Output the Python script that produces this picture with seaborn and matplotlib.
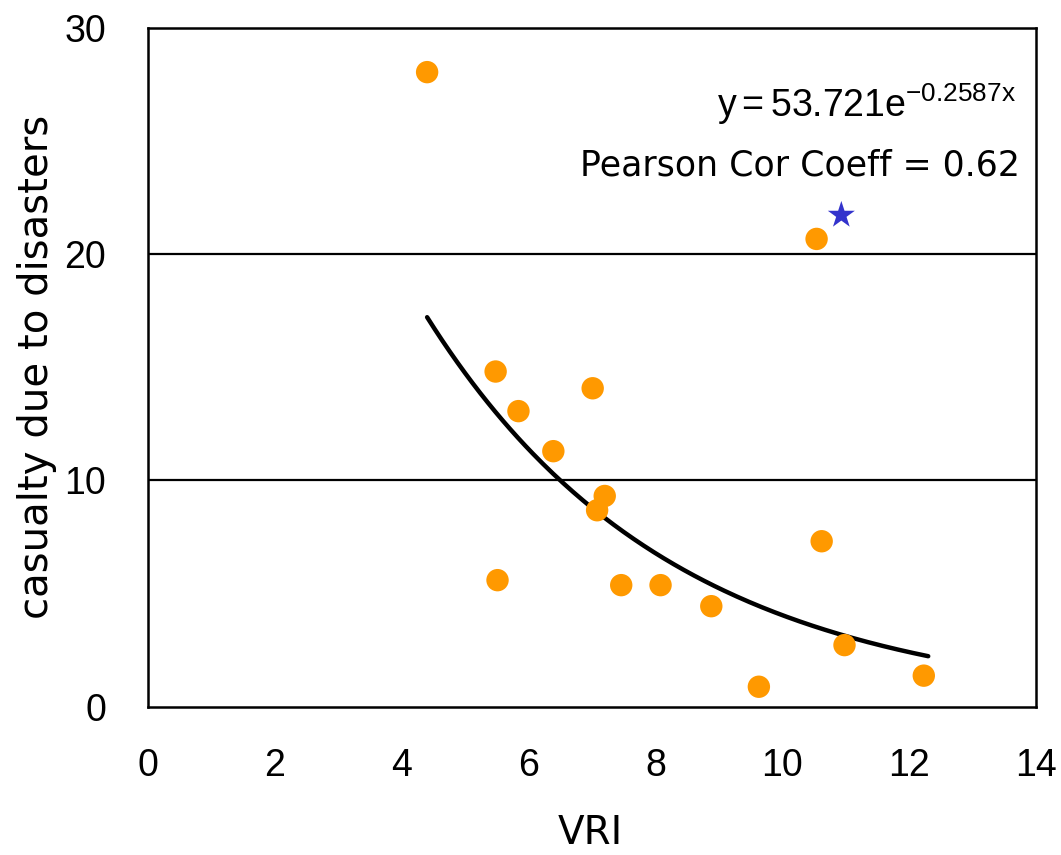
import numpy as np
import pandas as pd
import matplotlib
matplotlib.use("Agg")
import matplotlib.pyplot as plt
import seaborn as sns

# Data
vri = [4.40, 5.48, 5.84, 6.39, 7.01, 7.20, 7.08, 5.51, 7.46, 8.08, 8.88, 9.63, 10.54, 10.62, 10.98, 12.23]
casualty = [28.04, 14.81, 13.06, 11.29, 14.07, 9.31, 8.68, 5.59, 5.37, 5.37, 4.44, 0.88, 20.67, 7.31, 2.72, 1.37]
star_x = [10.93]
star_y = [21.72]
# Exponential trendline from the chart: y = a * exp(b x)
fit_a = 53.721
fit_b = -0.2587
fit_range = [4.40, 12.30]
x_ticks = [0, 2, 4, 6, 8, 10, 12, 14]
y_ticks = [0, 10, 20, 30]

sns.set_theme(style="white")
plt.rcParams['font.family'] = ['Liberation Sans', 'DejaVu Sans']
plt.rcParams['mathtext.fontset'] = 'custom'
plt.rcParams['mathtext.rm'] = 'Liberation Sans'
plt.rcParams['mathtext.it'] = 'Liberation Sans'

fig = plt.figure(figsize=(10.61, 8.55), dpi=100)
ax = fig.add_axes([0.1395, 0.1735, 0.837, 0.794])

df = pd.DataFrame({"VRI": vri, "casualty": casualty})
sns.scatterplot(data=df, x="VRI", y="casualty", ax=ax, color="#FF9900",
                s=260, edgecolor="none", zorder=3)
sns.scatterplot(x=star_x, y=star_y, ax=ax, marker="*", color="#3333CC",
                s=420, edgecolor="none", zorder=4)

xf = np.linspace(fit_range[0], fit_range[1], 200)
yf = fit_a * np.exp(fit_b * xf)
sns.lineplot(x=xf, y=yf, ax=ax, color="black", linewidth=3.2, zorder=2)

for yv in [10, 20]:
    ax.axhline(yv, color="black", linewidth=1.6, zorder=1)

ax.set_xlim(0, 14)
ax.set_ylim(0, 30)
ax.set_xticks(x_ticks)
ax.set_yticks(y_ticks)
ax.set_xticklabels([str(t) for t in x_ticks])
ax.set_yticklabels([str(t) for t in y_ticks])
ax.tick_params(axis='x', direction='in', length=12, width=1.8, color='black',
               labelsize=27, pad=30, labelcolor='black')
ax.tick_params(axis='y', length=0, labelsize=27, pad=30, labelcolor='black')
for sp in ax.spines.values():
    sp.set_visible(True)
    sp.set_color('black')
    sp.set_linewidth(1.8)

ax.set_xlabel("VRI", fontsize=28, color='black', family=['DejaVu Sans'])
ax.set_ylabel("casualty due to disasters", fontsize=29, color='black', family=['DejaVu Sans'])
ax.xaxis.set_label_coords(0.498, -0.158)
ax.yaxis.set_label_coords(-0.103, 0.5)

ax.text(0.977, 0.868, r"$\mathregular{y = 53.721e^{-0.2587x}}$", transform=ax.transAxes,
        ha='right', va='baseline', fontsize=27, color='black')
ax.text(0.982, 0.783, "Pearson Cor Coeff = 0.62", transform=ax.transAxes,
        ha='right', va='baseline', fontsize=25, color='black', family=['DejaVu Sans'])

ax.grid(False)
fig.savefig("out.png", dpi=100, facecolor="white")
